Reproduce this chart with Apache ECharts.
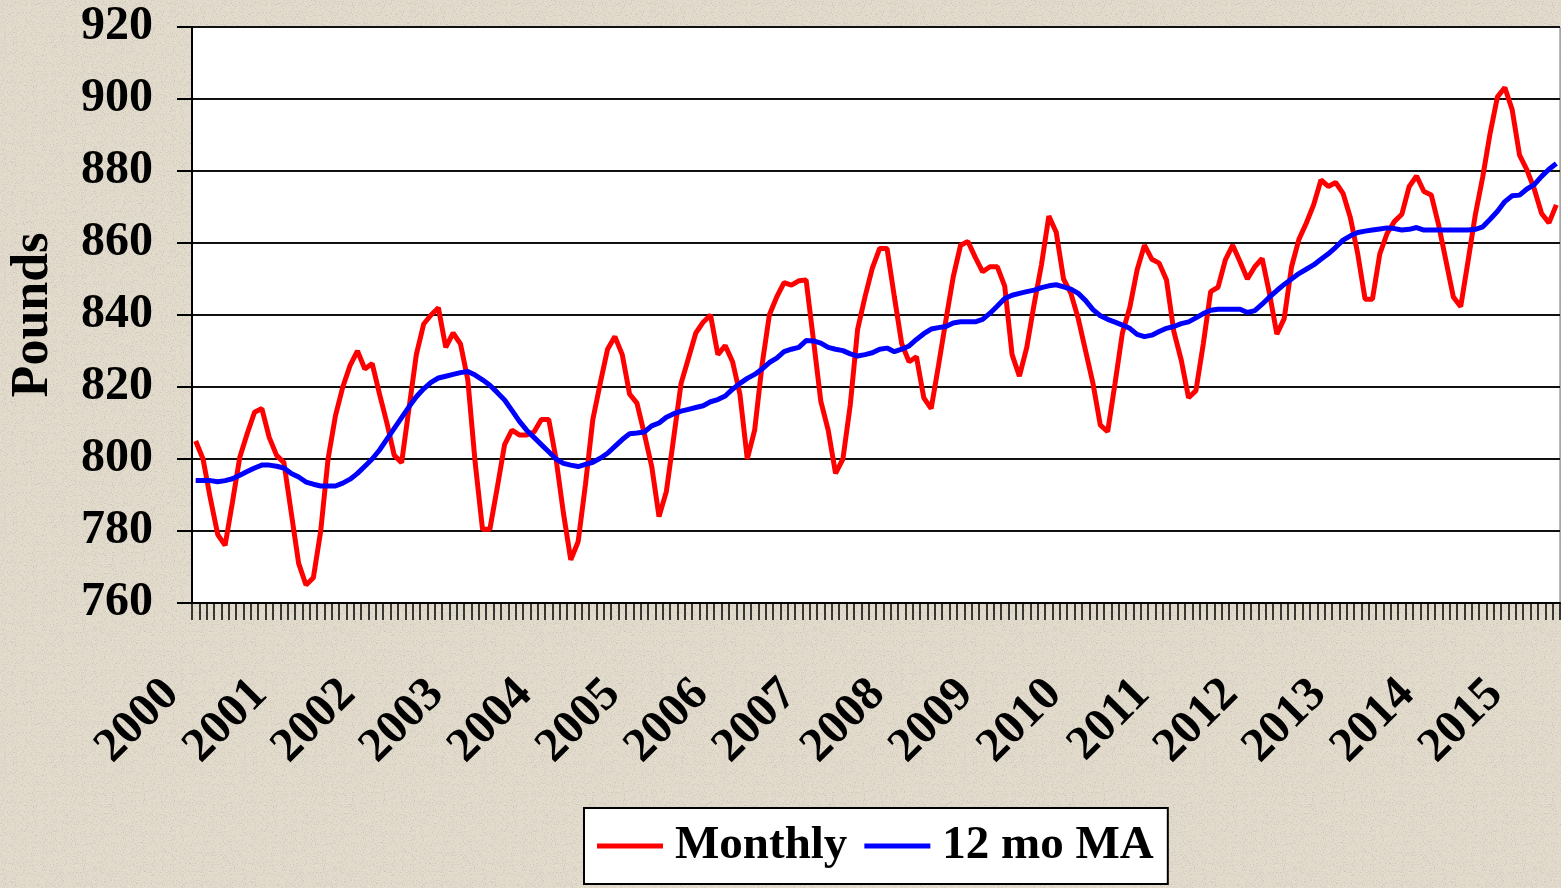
<!DOCTYPE html>
<html>
<head>
<meta charset="utf-8">
<title>Pounds - Monthly and 12 mo MA</title>
<script src="https://cdn.jsdelivr.net/npm/echarts@6/dist/echarts.min.js"></script>
<style>
  html, body {
    margin: 0;
    padding: 0;
    width: 1561px;
    height: 888px;
    overflow: hidden;
    background-color: #e3dccd;
    background-image: url("data:image/svg+xml;utf8,<svg xmlns='http://www.w3.org/2000/svg' width='240' height='240'><filter id='n'><feTurbulence type='fractalNoise' baseFrequency='0.9' numOctaves='2' stitchTiles='stitch'/><feColorMatrix values='0 0 0 0 0.55  0 0 0 0 0.52  0 0 0 0 0.47  3 0 0 0 -1.55'/></filter><rect width='100%' height='100%' filter='url(%23n)'/></svg>");
  }
  #chart { width: 1561px; height: 888px; }
</style>
</head>
<body>
<div id="chart"></div>
<script>
const FONT = '"Liberation Serif", "Times New Roman", serif'

const years = ['2000', '2001', '2002', '2003', '2004', '2005', '2006', '2007',
  '2008', '2009', '2010', '2011', '2012', '2013', '2014', '2015']
const months = ['01', '02', '03', '04', '05', '06', '07', '08', '09', '10', '11', '12']

// monthly values, Jan 2000 .. Jun 2015
const monthly = [
  805, 800, 789, 779, 776, 788, 800.5, 807, 813, 814, 806, 801,         // 2000
  799, 785, 771, 765, 767, 780, 800, 812, 820, 826, 830, 825,           // 2001
  826.5, 818, 810, 801, 799, 814, 829, 837.5, 840, 842, 831, 835,       // 2002
  832, 822, 799, 780.5, 780.5, 792, 804, 808, 806.7, 806.7, 807.5, 811, // 2003
  811, 800, 785, 772, 777, 793, 811, 821, 830.5, 834, 829, 818,         // 2004
  815.5, 807, 798, 784, 791, 806, 821, 828, 835, 838, 840, 829,         // 2005
  831.5, 827, 818, 800, 808, 826, 840, 845, 849, 848.3, 849.5, 849.7,   // 2006
  833, 816, 808, 796, 800, 815, 836, 845, 853, 858.5, 858.5, 845,       // 2007
  832, 827, 828.4, 817, 814, 826, 838.5, 850.6, 859.4, 860.4, 856, 852, // 2008
  853.4, 853.4, 848, 829, 823, 831, 843, 854, 867.5, 863, 850, 846,     // 2009
  839, 830, 821, 809.4, 807.6, 821, 835, 842, 852.5, 859.4, 855.5, 854.4, // 2010
  849.7, 835.4, 827.5, 817, 819, 832, 846.5, 847.7, 855.3, 859.4, 854.8, 850, // 2011
  853.4, 855.7, 846, 834.7, 839, 853.4, 861, 865.5, 870.6, 877.5, 875.7, 876.8, // 2012
  873.8, 867, 857, 844.4, 844.4, 857, 862.7, 866, 868, 875.7, 878.6, 874.3, // 2013
  873.3, 865, 855, 845, 842.3, 855, 868, 878.4, 890.5, 900.6, 903.2, 897, // 2014
  884.4, 880.3, 875, 868.2, 865.6, 870.6                                // 2015
]

// 12 month moving average
const movingAvg = [
  794, 794, 794, 793.7, 794, 794.5, 795.5, 796.5, 797.5, 798.3, 798.3, 798,
  797.5, 796, 795, 793.6, 793, 792.5, 792.5, 792.5, 793.3, 794.4, 796, 798,
  800, 802.5, 805.5, 808.5, 811.5, 814.5, 817.3, 819.5, 821.3, 822.5, 823, 823.5,
  824, 824.3, 823.3, 822, 820.5, 818.5, 816.4, 813.5, 810.5, 808, 806, 804,
  802, 800, 798.8, 798.3, 797.9, 798.5, 799.1, 800.2, 801.6, 803.5, 805.4, 807,
  807.2, 807.5, 809.2, 810, 811.6, 812.6, 813.3, 813.8, 814.3, 814.8, 815.9, 816.5,
  817.5, 819.4, 821, 822.4, 823.5, 825, 826.8, 828, 829.8, 830.5, 831, 832.9,
  832.8, 832.2, 831, 830.5, 830.1, 829.2, 828.6, 829, 829.5, 830.5, 830.8, 829.8,
  830.5, 831.4, 833.2, 834.8, 836.1, 836.5, 836.8, 837.8, 838.1, 838.1, 838.1, 838.8,
  840.5, 842.5, 844.6, 845.5, 846, 846.5, 846.9, 847.6, 848.1, 848.4, 847.8, 847.2,
  846, 844, 841.5, 839.8, 838.8, 838, 837.2, 836.3, 834.6, 834, 834.4, 835.4,
  836.3, 836.8, 837.6, 838.1, 839.2, 840.4, 841.3, 841.6, 841.6, 841.6, 841.6, 840.7,
  841.2, 843, 845, 846.8, 848.5, 850, 851.5, 852.7, 853.9, 855.5, 857, 858.8,
  860.8, 862, 862.9, 863.3, 863.6, 863.9, 864.2, 864, 863.6, 863.8, 864.3, 863.6,
  863.6, 863.6, 863.6, 863.6, 863.6, 863.6, 863.8, 864.5, 866.6, 868.8, 871.5, 873.1,
  873.3, 875, 876.2, 878.5, 880.5, 882.1
]

const categories = []
years.forEach(y => months.forEach(m => categories.push(y + '-' + m)))
categories.length = monthly.length

const chart = echarts.init(document.getElementById('chart'), null, { renderer: 'canvas' })

chart.setOption({
  animation: false,
  backgroundColor: 'transparent',
  grid: {
    left: 192,
    right: 1,
    top: 27,
    bottom: 285,
    outerBoundsMode: 'none',
    containLabel: false,
    show: true,
    backgroundColor: '#fff',
    borderColor: '#777',
    borderWidth: 1
  },
  legend: {
    left: 584,
    top: 808,
    padding: [13, 14, 13, 13],
    backgroundColor: '#fff',
    borderColor: '#000',
    borderWidth: 2,
    borderRadius: 0,
    icon: 'rect',
    itemWidth: 66,
    itemHeight: 5,
    itemGap: 17,
    textStyle: {
      fontFamily: FONT,
      fontWeight: 'bold',
      fontSize: 47,
      lineHeight: 50,
      color: '#000',
      padding: [0, 0, 0, 7]
    },
    data: ['Monthly', '12 mo MA']
  },
  xAxis: {
    type: 'category',
    data: categories,
    boundaryGap: true,
    axisLine: { lineStyle: { color: '#000', width: 2 } },
    axisTick: {
      show: true,
      interval: 0,
      length: 17,
      lineStyle: { color: '#000', width: 1.5 }
    },
    axisLabel: {
      interval: 11,
      rotate: 45,
      margin: 60,
      padding: [0, 34, 0, 0],
      formatter: v => v.slice(0, 4),
      fontFamily: FONT,
      fontWeight: 'bold',
      fontSize: 48,
      color: '#000'
    },
    splitLine: { show: false }
  },
  yAxis: {
    type: 'value',
    min: 760,
    max: 920,
    interval: 20,
    name: 'Pounds',
    nameLocation: 'middle',
    nameGap: 132,
    nameMoveOverlap: false,
    nameTextStyle: {
      fontFamily: FONT,
      fontWeight: 'bold',
      fontSize: 52,
      color: '#000'
    },
    axisLine: { show: true, lineStyle: { color: '#000', width: 2 } },
    axisTick: { show: true, length: 15, lineStyle: { color: '#000', width: 2 } },
    axisLabel: {
      margin: 39,
      fontFamily: FONT,
      fontWeight: 'bold',
      fontSize: 48,
      color: '#000'
    },
    splitLine: { show: true, lineStyle: { color: '#111', width: 2 } }
  },
  series: [
    {
      name: 'Monthly',
      type: 'line',
      data: monthly,
      symbol: 'none',
      lineStyle: { color: '#ff0000', width: 5 },
      itemStyle: { color: '#ff0000' },
      z: 2
    },
    {
      name: '12 mo MA',
      type: 'line',
      data: movingAvg,
      symbol: 'none',
      lineStyle: { color: '#0000ff', width: 5 },
      itemStyle: { color: '#0000ff' },
      z: 3
    }
  ]
})
</script>
</body>
</html>
